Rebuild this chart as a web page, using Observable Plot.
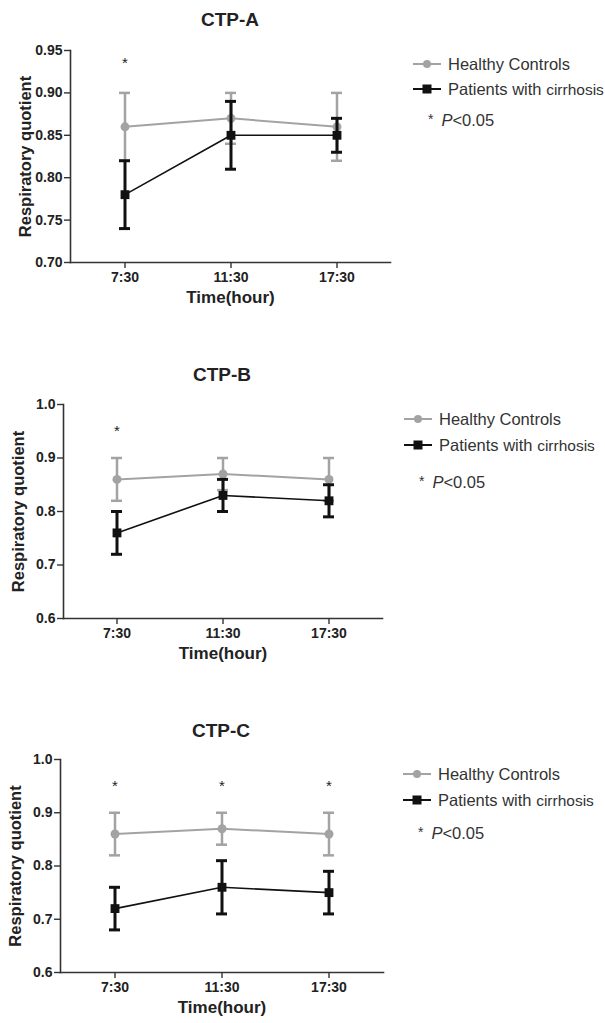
<!DOCTYPE html>
<html>
<head>
<meta charset="utf-8">
<script src="https://cdn.jsdelivr.net/npm/d3@7"></script>
<script src="https://cdn.jsdelivr.net/npm/@observablehq/plot@0.6"></script>
<style>
  body { margin: 0; background: #fff; }
  #wrap { position: relative; width: 605px; height: 1023px; font-family: "Liberation Sans", Arial, sans-serif; color: #222; }
  .title { position: absolute; font-weight: bold; font-size: 19px; transform: translate(-50%, -50%); white-space: nowrap; }
  .plot { position: absolute; left: 0; }
  .legend { position: absolute; font-size: 16.5px; color: #333; }
  .legend .row { position: absolute; white-space: nowrap; display: flex; align-items: center; }
  .legend .narrow { font-family: "Liberation Sans Narrow", "Liberation Sans", Arial, sans-serif; font-size: 15.5px; }
  .legend .star { font-size: 14px; position: relative; top: -2px; margin-right: 8px; }
</style>
</head>
<body>
<div id="wrap"></div>
<script>
// ---- data ----
const times = ["7:30", "11:30", "17:30"];
const panelTitles = ["CTP-A", "CTP-B", "CTP-C"];
const seriesNames = ["Healthy Controls", "Patients with cirrhosis"];

const healthyA = [0.86, 0.87, 0.86];
const healthyAErr = [0.04, 0.03, 0.04];
const cirrhosisA = [0.78, 0.85, 0.85];
const cirrhosisAErr = [0.04, 0.04, 0.02];

const healthyB = [0.86, 0.87, 0.86];
const healthyBErr = [0.04, 0.03, 0.04];
const cirrhosisB = [0.76, 0.83, 0.82];
const cirrhosisBErr = [0.04, 0.03, 0.03];

const healthyC = [0.86, 0.87, 0.86];
const healthyCErr = [0.04, 0.03, 0.04];
const cirrhosisC = [0.72, 0.76, 0.75];
const cirrhosisCErr = [0.04, 0.05, 0.04];

const starsA = ["7:30"];
const starsB = ["7:30"];
const starsC = ["7:30", "11:30", "17:30"];
const starLevel = [0.935, 0.95, 0.95];

const yTicksA = [0.70, 0.75, 0.80, 0.85, 0.90, 0.95];
const yTicksBC = [0.6, 0.7, 0.8, 0.9, 1.0];

// ---- build ----
const GRAY = "#a3a3a3";
const BLACK = "#111";

function rows(means, errs, name) {
  return times.map((t, i) => ({time: t, series: name, mean: means[i], lo: means[i] - errs[i], hi: means[i] + errs[i]}));
}

const panels = [
  {title: panelTitles[0], hc: rows(healthyA, healthyAErr, seriesNames[0]), pt: rows(cirrhosisA, cirrhosisAErr, seriesNames[1]),
   stars: starsA.map(t => ({time: t, v: starLevel[0]})), ticks: yTicksA, fmt: ".2f",
   top: 0, height: 310, mt: 50, mb: 48, ml: 70, width: 400,
   titleX: 230, titleY: 20, legX: 412, legY: 65, row2: 25, row3: 57},
  {title: panelTitles[1], hc: rows(healthyB, healthyBErr, seriesNames[0]), pt: rows(cirrhosisB, cirrhosisBErr, seriesNames[1]),
   stars: starsB.map(t => ({time: t, v: starLevel[1]})), ticks: yTicksBC, fmt: ".1f",
   top: 360, height: 310, mt: 44, mb: 52, ml: 63, width: 392,
   titleX: 222, titleY: 375, legX: 403, legY: 420, row2: 26, row3: 64},
  {title: panelTitles[2], hc: rows(healthyC, healthyCErr, seriesNames[0]), pt: rows(cirrhosisC, cirrhosisCErr, seriesNames[1]),
   stars: starsC.map(t => ({time: t, v: starLevel[2]})), ticks: yTicksBC, fmt: ".1f",
   top: 720, height: 303, mt: 39, mb: 51, ml: 60, width: 393,
   titleX: 221, titleY: 731, legX: 402, legY: 775, row2: 26, row3: 60}
];

const wrap = document.getElementById("wrap");

function seriesMarks(data, color, isSquare) {
  const barW = isSquare ? 3 : 2.5;
  return [
    Plot.line(data, {x: "time", y: "mean", stroke: color, strokeWidth: isSquare ? 1.6 : 2}),
    Plot.ruleX(data, {x: "time", y1: "lo", y2: "hi", stroke: color, strokeWidth: barW}),
    Plot.tickY(data, {x: "time", y: "lo", stroke: color, strokeWidth: barW}),
    Plot.tickY(data, {x: "time", y: "hi", stroke: color, strokeWidth: barW}),
    Plot.dot(data, {x: "time", y: "mean", fill: color, stroke: "none", r: isSquare ? 5 : 4.5, symbol: isSquare ? "square" : "circle"})
  ];
}

panels.forEach(p => {
  const yDom = [p.ticks[0], p.ticks[p.ticks.length - 1]];
  const chart = Plot.plot({
    width: p.width,
    height: p.height,
    marginLeft: p.ml,
    marginRight: 10,
    marginTop: p.mt,
    marginBottom: p.mb,
    style: {fontFamily: "Liberation Sans, Arial, sans-serif", fontWeight: "bold", color: "#222", background: "white"},
    x: {type: "band", domain: times, paddingInner: 0.9, paddingOuter: 0.45},
    y: {domain: yDom},
    marks: [
      Plot.frame({anchor: "left", stroke: "#333", strokeWidth: 1.6}),
      Plot.frame({anchor: "bottom", stroke: "#333", strokeWidth: 1.6}),
      Plot.axisY({ticks: p.ticks, tickFormat: d3.format(p.fmt), tickSize: 6, tickPadding: 2, fontSize: 14, label: null, stroke: "#333", strokeWidth: 1.4}),
      Plot.axisY({ticks: [], label: "Respiratory quotient", labelArrow: "none", labelAnchor: "center", labelOffset: 51, fontSize: 16.5}),
      Plot.axisX({tickSize: 6, tickPadding: 4, fontSize: 14, label: null, stroke: "#333", strokeWidth: 1.4}),
      Plot.axisX({ticks: [], label: "Time(hour)", labelArrow: "none", labelAnchor: "center", labelOffset: 40, fontSize: 17}),
      ...seriesMarks(p.hc, GRAY, false),
      ...seriesMarks(p.pt, BLACK, true),
      Plot.text(p.stars, {x: "time", y: "v", text: () => "*", fontSize: 15, fontWeight: "normal", fill: "#222"})
    ]
  });
  chart.classList.add("plot");
  chart.style.top = p.top + "px";
  wrap.appendChild(chart);

  const t = document.createElement("div");
  t.className = "title";
  t.textContent = p.title;
  t.style.left = p.titleX + "px";
  t.style.top = p.titleY + "px";
  wrap.appendChild(t);

  const leg = document.createElement("div");
  leg.className = "legend";
  leg.style.left = p.legX + "px";
  leg.style.top = p.legY + "px";
  leg.innerHTML = `
    <div class="row" style="top:-11px;left:0">
      <svg width="30" height="20"><line x1="1" x2="29" y1="10" y2="10" stroke="${GRAY}" stroke-width="2"/><circle cx="15" cy="10" r="4" fill="${GRAY}"/></svg>
      <span style="margin-left:6px">${seriesNames[0]}</span>
    </div>
    <div class="row" style="top:${p.row2 - 11}px;left:0">
      <svg width="30" height="20"><line x1="1" x2="29" y1="10" y2="10" stroke="${BLACK}" stroke-width="2"/><rect x="10.5" y="5.5" width="9" height="9" fill="${BLACK}"/></svg>
      <span style="margin-left:6px">Patients with <span class="narrow">cirrhosis</span></span>
    </div>
    <div class="row" style="top:${p.row3 - 11}px;left:16px">
      <span class="star">*</span><span><i>P</i>&lt;0.05</span>
    </div>`;
  wrap.appendChild(leg);
});
</script>
</body>
</html>
